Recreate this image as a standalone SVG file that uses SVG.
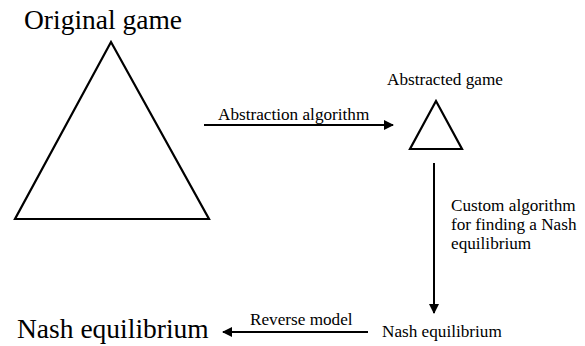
<svg xmlns="http://www.w3.org/2000/svg" width="585" height="346" viewBox="0 0 585 346">
<style>
.big{font-family:'Liberation Serif','Times New Roman','DejaVu Serif',serif;font-size:27.5px;fill:#000}
.lbl{font-family:'Liberation Serif','Times New Roman','DejaVu Serif',serif;font-size:17.2px;fill:#000}
.tri{fill:none;stroke:#000;stroke-width:2.2;stroke-linejoin:miter}
.conn{stroke:#000;stroke-width:2;fill:none}
</style>
<defs>
<marker id="ah" viewBox="0 0 10 10" refX="9" refY="5" markerWidth="5" markerHeight="5" orient="auto" markerUnits="strokeWidth">
<path d="M0,0 L10,5 L0,10 Z" fill="#000"/>
</marker>
</defs>
<rect width="585" height="346" fill="#fff"/>
<g id="original-game">
<text class="big" x="24" y="29">Original game</text>
<polygon class="tri" points="111,42 15,219 209,219"/>
</g>
<g id="abstracted-game">
<text class="lbl" x="387" y="85">Abstracted game</text>
<polygon class="tri" points="436,101 410,149 462,149"/>
</g>
<g id="nash-small">
<text class="lbl" x="382" y="337">Nash equilibrium</text>
</g>
<g id="nash-big">
<text class="big" x="17" y="338">Nash equilibrium</text>
</g>
<g id="connectors">
<line class="conn" x1="204" y1="125" x2="393" y2="125" marker-end="url(#ah)"/>
<text class="lbl" x="218" y="120">Abstraction algorithm</text>
<line class="conn" x1="434" y1="163" x2="434" y2="313" marker-end="url(#ah)"/>
<text class="lbl" x="451" y="211">Custom algorithm</text>
<text class="lbl" x="451" y="230">for finding a Nash</text>
<text class="lbl" x="451" y="249">equilibrium</text>
<line class="conn" x1="368" y1="332" x2="223" y2="332" marker-end="url(#ah)"/>
<text class="lbl" x="250" y="325">Reverse model</text>
</g>
</svg>
